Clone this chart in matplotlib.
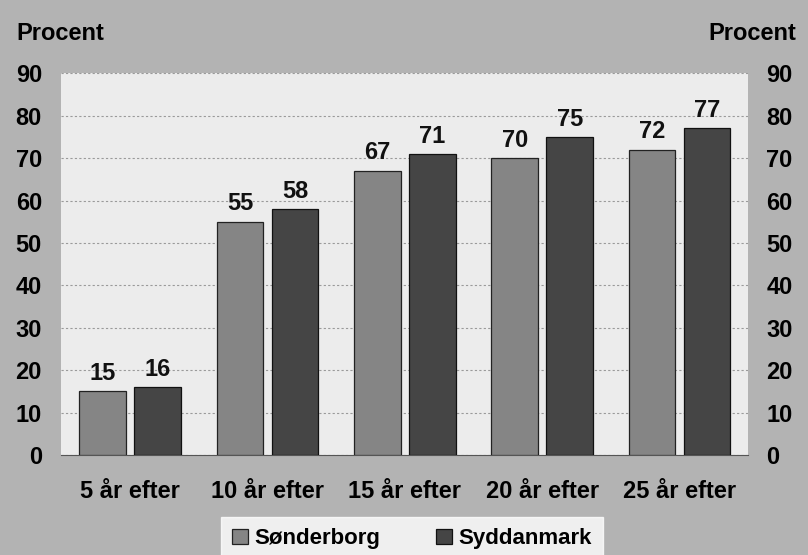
import numpy as np
import matplotlib.pyplot as plt

# data
categories = ['5 år efter', '10 år efter', '15 år efter', '20 år efter', '25 år efter']
soenderborg = [15, 55, 67, 70, 72]
syddanmark = [16, 58, 71, 75, 77]
series_names = ['Sønderborg', 'Syddanmark']
yticks = list(range(0, 100, 10))

plt.rcParams['font.family'] = ['Liberation Sans', 'DejaVu Sans']
plt.rcParams['font.weight'] = 'bold'

bg = '#b3b3b3'
col_s = '#858585'
col_d = '#454545'

fig = plt.figure(figsize=(8.08, 5.55), dpi=100, facecolor=bg)
ax = fig.add_axes([0.076, 0.180, 0.850, 0.688])
ax.set_facecolor('#ececec')

x = np.arange(len(categories))
w = 0.34
off = 0.2
b1 = ax.bar(x - off, soenderborg, w, color=col_s, edgecolor='#222222', linewidth=0.9, zorder=3, label=series_names[0])
b2 = ax.bar(x + off, syddanmark, w, color=col_d, edgecolor='#111111', linewidth=0.9, zorder=3, label=series_names[1])

for bars, vals in [(b1, soenderborg), (b2, syddanmark)]:
    for r, v in zip(bars, vals):
        ax.text(r.get_x() + r.get_width() / 2, v + 1.5, str(v), ha='center', va='bottom',
                fontsize=17, fontweight='bold', color='#111111')

ax.set_xlim(-0.5, len(categories) - 0.5)
ax.set_ylim(0, 90)
ax.set_yticks(yticks)
ax.set_yticklabels([str(t) for t in yticks], fontsize=17, fontweight='bold')
ax.set_xticks(x)
ax.set_xticklabels(categories, fontsize=17, fontweight='bold')
ax.tick_params(axis='both', length=0)
ax.tick_params(axis='x', pad=18)
ax.tick_params(axis='y', pad=14)
ax.grid(axis='y', color='#9a9a9a', linestyle=(0, (2, 2)), linewidth=0.8, zorder=0)
for s in ['top', 'left', 'right']:
    ax.spines[s].set_visible(False)
ax.spines['bottom'].set_color('#555555')
ax.spines['bottom'].set_linewidth(0.8)

# right side axis with the same ticks
ax2 = ax.twinx()
ax2.set_ylim(0, 90)
ax2.set_yticks(yticks)
ax2.set_yticklabels([str(t) for t in yticks], fontsize=17, fontweight='bold')
ax2.tick_params(axis='y', length=0, pad=13)
for s in ax2.spines.values():
    s.set_visible(False)

fig.text(0.020, 0.940, 'Procent', fontsize=17, fontweight='bold', va='center', ha='left')
fig.text(0.985, 0.940, 'Procent', fontsize=17, fontweight='bold', va='center', ha='right')

leg = fig.legend(handles=[b1, b2], labels=series_names, loc='lower center',
                 bbox_to_anchor=(0.51, -0.022), ncol=2, frameon=True, fontsize=16,
                 handlelength=0.7, handleheight=0.7, columnspacing=2.5, handletextpad=0.3,
                 borderpad=0.5, borderaxespad=0.3, fancybox=False)
leg.get_frame().set_facecolor('white')
leg.get_frame().set_edgecolor('white')
for t in leg.get_texts():
    t.set_fontweight('bold')

fig.savefig('out.png', dpi=100, facecolor=bg)
